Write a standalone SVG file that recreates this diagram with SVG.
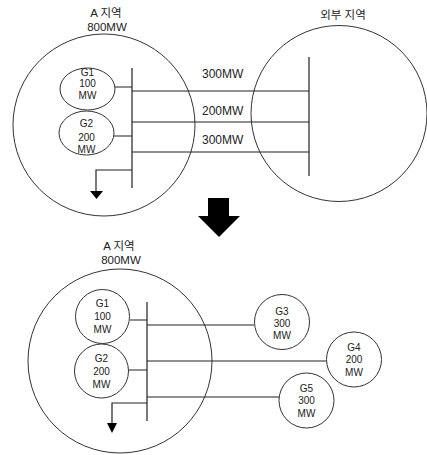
<svg xmlns="http://www.w3.org/2000/svg" width="427" height="455" viewBox="0 0 427 455">
<style>
.c{fill:none;stroke:#333;stroke-width:1}
.l{stroke:#222;stroke-width:1.2;fill:none}
.t{font-family:"Liberation Sans","Noto Sans CJK KR",sans-serif;font-size:10px;fill:#222;text-anchor:middle}
.k{font-family:"Liberation Sans","Noto Sans CJK KR",sans-serif;font-size:11.5px;fill:#222;text-anchor:middle}
.m{font-family:"Liberation Sans","Noto Sans CJK KR",sans-serif;font-size:12px;fill:#222;text-anchor:start}
</style>
<rect width="427" height="455" fill="#fff"/>
<g id="areaA-top">
<circle class="c" cx="104" cy="125" r="91"/>
<text class="k" x="106" y="17">A 지역</text>
<text class="k" x="107" y="31">800MW</text>
</g>
<g id="external">
<circle class="c" cx="339" cy="113.5" r="88"/>
<text class="k" x="343" y="19">외부 지역</text>
</g>
<g id="G1-top">
<ellipse class="c" cx="87.5" cy="89" rx="27.5" ry="21"/>
<text class="t" x="87.5" y="75.5">G1</text>
<text class="t" x="87.5" y="87">100</text>
<text class="t" x="87.5" y="98.5">MW</text>
</g>
<g id="G2-top">
<ellipse class="c" cx="86.5" cy="133" rx="27.5" ry="22"/>
<text class="t" x="86.5" y="127">G2</text>
<text class="t" x="86.5" y="140.5">200</text>
<text class="t" x="86.5" y="153">MW</text>
</g>
<g id="arrow">
<polygon points="208,198 229,198 229,216 240,216 219,237 198,216 208,216" fill="#000"/>
</g>
<g id="areaA-bottom">
<circle class="c" cx="120" cy="361" r="92"/>
<text class="k" x="119" y="250">A 지역</text>
<text class="k" x="121" y="264">800MW</text>
</g>
<g id="G1-bottom">
<circle class="c" cx="102.5" cy="316.5" r="27"/>
<text class="t" x="102.5" y="306.5">G1</text>
<text class="t" x="102.5" y="320">100</text>
<text class="t" x="102.5" y="333">MW</text>
</g>
<g id="G2-bottom">
<circle class="c" cx="101.5" cy="371" r="27"/>
<text class="t" x="101.5" y="361.5">G2</text>
<text class="t" x="101.5" y="375">200</text>
<text class="t" x="101.5" y="388">MW</text>
</g>
<g id="G3">
<circle class="c" cx="282" cy="322" r="27.5"/>
<text class="t" x="282" y="314.5">G3</text>
<text class="t" x="282" y="326.5">300</text>
<text class="t" x="282" y="338.5">MW</text>
</g>
<g id="G4">
<circle class="c" cx="354" cy="359.5" r="27.5"/>
<text class="t" x="354" y="350.5">G4</text>
<text class="t" x="354" y="363">200</text>
<text class="t" x="354" y="375.5">MW</text>
</g>
<g id="G5">
<circle class="c" cx="306.5" cy="400.5" r="27.5"/>
<text class="t" x="306.5" y="391.5">G5</text>
<text class="t" x="306.5" y="404">300</text>
<text class="t" x="306.5" y="416.5">MW</text>
</g>
<g id="connectors">
<path class="l" d="M132,68V188M115,87H132M114,136H132M132,91H309M132,122H309M132,152H309M309,57V176M132,170H96V191"/>
<polygon points="90,191 103,191 96.5,199" fill="#000"/>
<text class="m" x="202" y="78">300MW</text>
<text class="m" x="202" y="115">200MW</text>
<text class="m" x="202" y="144">300MW</text>
<path class="l" d="M147,302V421M130,320H147M129,370H147M147,325H254M147,361H326M147,397H279M147,403H112V423"/>
<polygon points="107,423 117,423 112,433" fill="#000"/>
</g>
</svg>
